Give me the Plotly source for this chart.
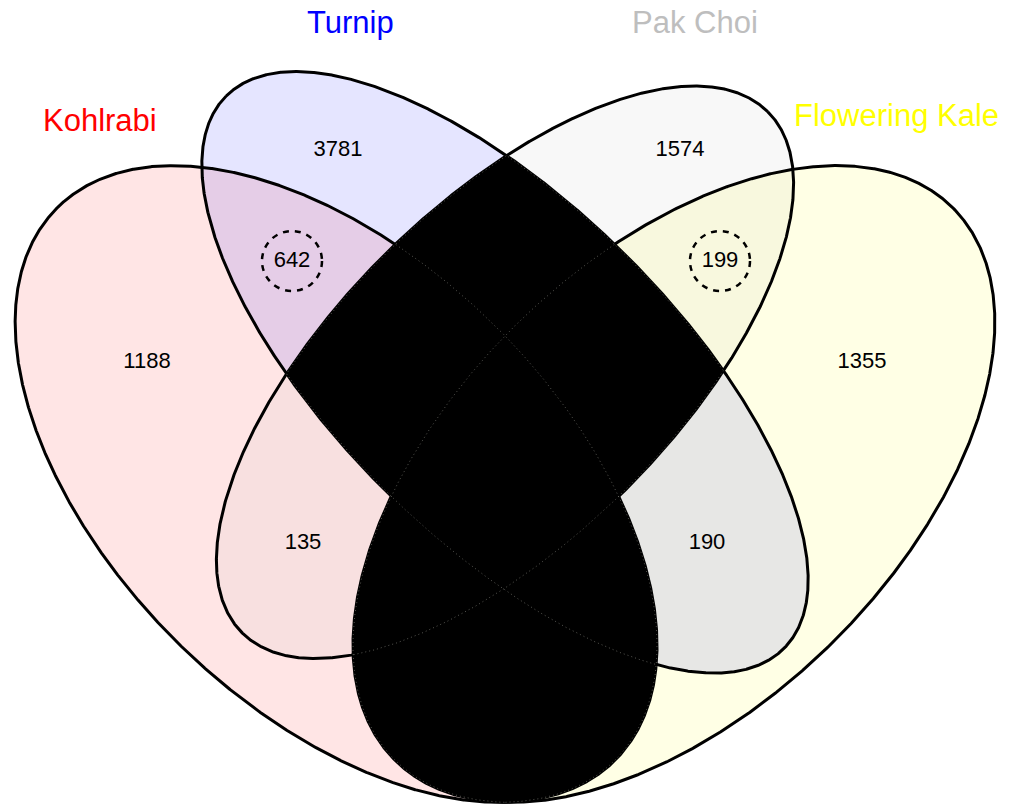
import numpy as np
import plotly.graph_objects as go

# ---------------- data ----------------
categories = ["Kohlrabi", "Turnip", "Pak Choi", "Flowering Kale"]
category_colors = ["#FF0000", "#0000FF", "#BEBEBE", "#FFFF00"]
fill_colors = ["rgba(255,0,0,0.1)", "rgba(0,0,255,0.1)",
               "rgba(190,190,190,0.1)", "rgba(255,255,0,0.1)"]

region_names = ["Kohlrabi only", "Turnip only", "Pak Choi only", "Flowering Kale only",
                "Kohlrabi & Turnip", "Pak Choi & Flowering Kale",
                "Kohlrabi & Pak Choi", "Turnip & Flowering Kale"]
region_counts = [1188, 3781, 1574, 1355, 642, 199, 135, 190]
region_highlight = [False, False, False, False, True, True, False, False]

# ---------------- layout (geometry) ----------------
# ellipses in unit (npc) space: cx, cy, semi-major, semi-minor, angle of major axis (deg, y up)
ellipses = [
    (0.35, 0.47, 0.35, 0.20, 135),
    (0.50, 0.57, 0.35, 0.15, 135),
    (0.50, 0.57, 0.33, 0.15, 45),
    (0.65, 0.47, 0.35, 0.20, 45),
]
# unit space -> pixel space
X0, SX = -58.0, 1126.0
Y0, SY = 1009.0, 1117.0

region_label_pos = [(147, 362), (338, 150), (680, 150), (862, 362),
                    (292, 261), (720, 261), (303, 543), (707, 543)]
category_label_pos = [(100, 120), (350, 22), (695, 22), (896, 115)]


def to_px(x, y):
    return X0 + SX * np.asarray(x), Y0 - SY * np.asarray(y)


def ellipse_pts(e, n=2400):
    cx, cy, a, b, rot = e
    t = np.linspace(0, 2 * np.pi, n)
    th = np.radians(rot)
    x = cx + a * np.cos(t) * np.cos(th) - b * np.sin(t) * np.sin(th)
    y = cy + a * np.cos(t) * np.sin(th) + b * np.sin(t) * np.cos(th)
    return x, y


def inside(e, x, y, tol=1e-9):
    cx, cy, a, b, rot = e
    th = np.radians(rot)
    dx, dy = x - cx, y - cy
    u = dx * np.cos(th) + dy * np.sin(th)
    v = -dx * np.sin(th) + dy * np.cos(th)
    return (u / a) ** 2 + (v / b) ** 2 <= 1 + tol


def intersection_poly(e1, e2):
    x1, y1 = ellipse_pts(e1)
    x2, y2 = ellipse_pts(e2)
    m1 = inside(e2, x1, y1)
    m2 = inside(e1, x2, y2)
    xs = np.concatenate([x1[m1], x2[m2]])
    ys = np.concatenate([y1[m1], y2[m2]])
    ang = np.arctan2(ys - ys.mean(), xs - xs.mean())
    order = np.argsort(ang)
    xs, ys = xs[order], ys[order]
    return np.append(xs, xs[0]), np.append(ys, ys[0])


fig = go.Figure()

# translucent fills
for e, fc, name in zip(ellipses, fill_colors, categories):
    x, y = ellipse_pts(e)
    px, py = to_px(x, y)
    fig.add_trace(go.Scatter(x=px, y=py, mode="lines", fill="toself",
                             fillcolor=fc, line=dict(width=0),
                             hoverinfo="skip", showlegend=False, name=name))

# thick outlines
for e in ellipses:
    x, y = ellipse_pts(e)
    px, py = to_px(x, y)
    fig.add_trace(go.Scatter(x=px, y=py, mode="lines",
                             line=dict(color="black", width=3),
                             hoverinfo="skip", showlegend=False))

# black blocked-out intersections: (Turnip & Pak Choi) and (Kohlrabi & Flowering Kale)
for i, j in [(1, 2), (0, 3)]:
    x, y = intersection_poly(ellipses[i], ellipses[j])
    px, py = to_px(x, y)
    fig.add_trace(go.Scatter(x=px, y=py, mode="lines", fill="toself",
                             fillcolor="black", line=dict(color="black", width=0.5),
                             hoverinfo="skip", showlegend=False))


def in_black(x, y):
    a = inside(ellipses[1], x, y, 1e-6) & inside(ellipses[2], x, y, 1e-6)
    b = inside(ellipses[0], x, y, 1e-6) & inside(ellipses[3], x, y, 1e-6)
    return a | b


# faint dotted outlines inside the black area
for e in ellipses:
    x, y = ellipse_pts(e, 3000)
    m = in_black(x, y)
    px, py = to_px(x, y)
    px = np.where(m, px, np.nan)
    py = np.where(m, py, np.nan)
    fig.add_trace(go.Scatter(x=list(np.where(np.isnan(px), None, px)),
                             y=list(np.where(np.isnan(py), None, py)),
                             mode="lines", connectgaps=False,
                             line=dict(color="rgba(190,190,180,0.45)", width=1, dash="1px,3px"),
                             hoverinfo="skip", showlegend=False))

# region counts
fig.add_trace(go.Scatter(
    x=[p[0] for p in region_label_pos], y=[p[1] for p in region_label_pos],
    mode="text", text=[str(v) for v in region_counts],
    textfont=dict(family="Liberation Sans, Arial, sans-serif", size=22, color="black"),
    hovertext=region_names, hoverinfo="text", showlegend=False))

# dashed circles around highlighted counts
for (cx, cy), h in zip(region_label_pos, region_highlight):
    if h:
        fig.add_shape(type="circle", xref="x", yref="y",
                      x0=cx - 30, x1=cx + 30, y0=cy - 30, y1=cy + 30,
                      line=dict(color="black", width=2.5, dash="6px,6px"))

# category labels
for name, col, (cx, cy) in zip(categories, category_colors, category_label_pos):
    fig.add_annotation(x=cx, y=cy, xref="x", yref="y", text=name, showarrow=False,
                       font=dict(family="Liberation Sans, Arial, sans-serif", size=31, color=col),
                       xanchor="center", yanchor="middle")

fig.update_layout(
    width=1019, height=807,
    margin=dict(l=0, r=0, t=0, b=0),
    paper_bgcolor="white", plot_bgcolor="white",
    xaxis=dict(range=[0, 1019], visible=False, fixedrange=True),
    yaxis=dict(range=[807, 0], visible=False, fixedrange=True),
)

fig.write_html("out.html", config={"displayModeBar": False},
               post_script="document.body.style.margin='0';document.body.style.overflow='hidden';")
